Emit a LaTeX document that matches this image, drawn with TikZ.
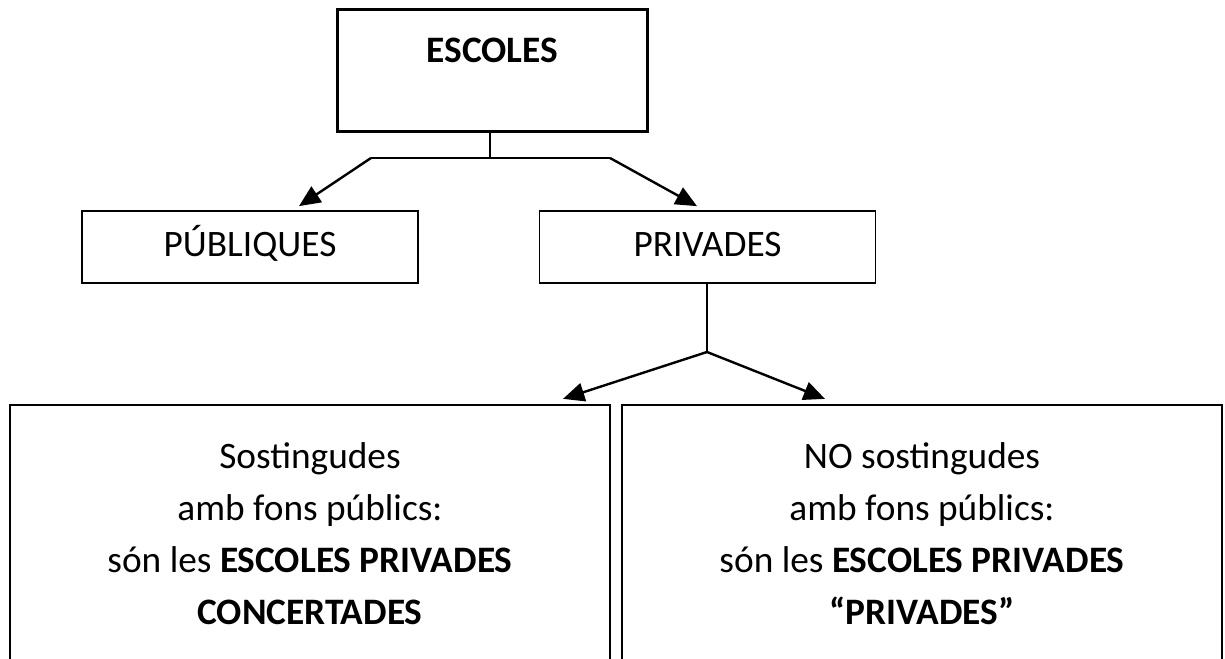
\documentclass[tikz,border=0pt]{standalone}
\usepackage{fontspec}
\setmainfont{Carlito}
\usetikzlibrary{arrows.meta,calc}
\begin{document}
\begin{tikzpicture}[x=0.75pt,y=-0.75pt,
  txt/.style={font=\fontsize{28}{39}\selectfont, inner sep=0pt, align=center},
  topbox/.style={draw, line width=2.25pt, minimum width=310*0.75pt, minimum height=122*0.75pt, inner sep=0pt},
  midbox/.style={draw, line width=1.3pt, minimum width=336*0.75pt, minimum height=72*0.75pt, inner sep=0pt, font=\fontsize{28}{39}\selectfont, text height=20pt, text depth=5pt},
  lowbox/.style={draw, line width=1.7pt, minimum width=600*0.75pt, minimum height=285*0.75pt, inner sep=0pt},
  thin/.style={line width=1.1pt},
  arr/.style={line width=1.8pt, -{Triangle[length=16pt,width=14pt]}}
]
\useasboundingbox (0,0) rectangle (1225,659);
\fill[white] (0,0) rectangle (1225,659);

% boxes
\node[topbox] (escoles) at (492.5,71) {};
\node[txt, anchor=base, font=\fontsize{28}{39}\selectfont\bfseries] (escolestxt) at (492.5,63) {ESCOLES};

\node[midbox] (pub) at (250,247) {PÚBLIQUES};
\node[midbox] (priv) at (707.5,247) {PRIVADES};

\node[lowbox] (conc) at (310,547.5) {};
\node[lowbox] (nopriv) at (922,547.5) {};
\node[txt] (conctxt) at (310,534) {Sostingudes\\amb fons públics:\\són les \textbf{ESCOLES PRIVADES}\\\textbf{CONCERTADES}};
\node[txt] (noprivtxt) at (922,534) {NO sostingudes\\amb fons públics:\\són les \textbf{ESCOLES PRIVADES}\\\textbf{“PRIVADES”}};

% connectors
\coordinate (j1) at (490,158);
\coordinate (jl) at (371,158);
\coordinate (jr) at (610,158);
\draw[thin] (escoles.south -| j1) -- (j1);
\draw[thin] (jl) -- (jr);
\draw[arr] (jl) -- ($(pub.north)+(49,-4)$);
\draw[arr] (jr) -- ($(priv.north)+(-10.5,-4)$);

\coordinate (j2) at (707,352);
\draw[thin] (priv.south -| j2) -- (j2);
\draw[arr] (j2) -- ($(conc.north)+(253,-5)$);
\draw[arr] (j2) -- ($(nopriv.north)+(-97,-5)$);
\end{tikzpicture}
\end{document}
